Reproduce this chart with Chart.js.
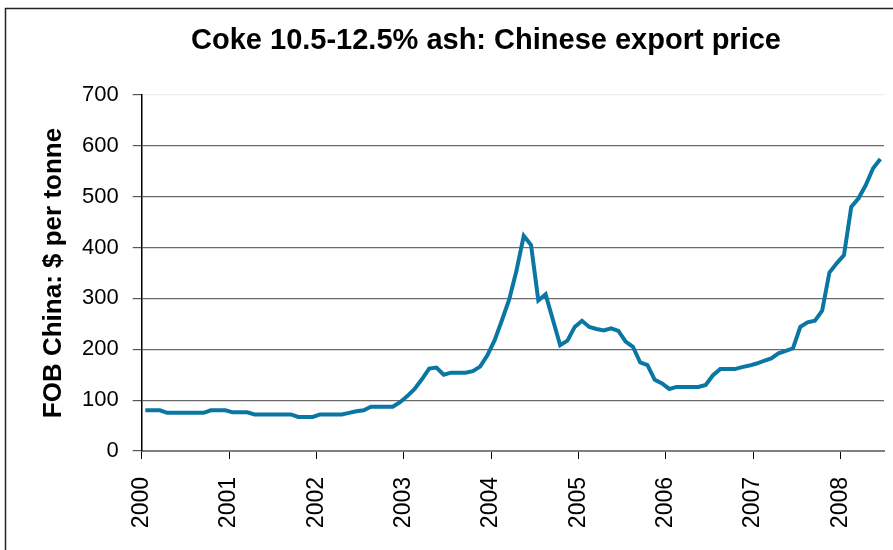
<!DOCTYPE html>
<html>
<head>
<meta charset="utf-8">
<title>Coke 10.5-12.5% ash: Chinese export price</title>
<script src="https://cdn.jsdelivr.net/npm/chart.js@4.4.1/dist/chart.umd.min.js"></script>
<style>
  html, body { margin: 0; padding: 0; background: #fff; }
  #wrap { width: 893px; height: 550px; }
</style>
</head>
<body>
<div id="wrap"><canvas id="chart" width="893" height="550"></canvas></div>
<script>
const TITLE = 'Coke 10.5-12.5% ash: Chinese export price';
const Y_TITLE = 'FOB China: $ per tonne';
const FONT = '"Liberation Sans", Arial, sans-serif';
const LINE_COLOR = '#0976a4';

// Year labels on the x axis; one tick every 12 months.
const YEARS = ['2000', '2001', '2002', '2003', '2004', '2005', '2006', '2007', '2008'];

// Monthly FOB price, $ per tonne, Jan..Dec.
const PRICE_2000 = [80, 80, 80, 75, 75, 75, 75, 75, 75, 80, 80, 80];
const PRICE_2001 = [76, 76, 76, 72, 72, 72, 72, 72, 72, 67, 67, 67];
const PRICE_2002 = [72, 72, 72, 72, 75, 78, 80, 87, 87, 87, 87, 96];
const PRICE_2003 = [108, 122, 141, 162, 164, 150, 154, 154, 154, 157, 166, 188];
const PRICE_2004 = [218, 257, 298, 355, 423, 405, 296, 308, 258, 208, 217, 244];
const PRICE_2005 = [256, 244, 240, 237, 241, 236, 215, 205, 174, 169, 140, 133];
const PRICE_2006 = [122, 126, 126, 126, 126, 130, 149, 161, 161, 161, 165, 168];
const PRICE_2007 = [172, 177, 182, 192, 197, 202, 244, 253, 256, 276, 351, 369];
const PRICE_2008 = [385, 480, 497, 523, 556, 574];   // Jan..Jun

const Y_MIN = 0;
const Y_MAX = 700;
const Y_STEP = 100;

const prices = [].concat(PRICE_2000, PRICE_2001, PRICE_2002, PRICE_2003,
    PRICE_2004, PRICE_2005, PRICE_2006, PRICE_2007, PRICE_2008);

// Each month sits in the middle of its own slot, like a category axis.
const points = prices.map((v, i) => ({ x: i + 0.5, y: v }));
const monthCount = prices.length;

// Outer frame of the chart object (left and top edges show in the picture).
const framePlugin = {
    id: 'frame',
    beforeDraw(chart) {
        const { ctx, width, height } = chart;
        ctx.save();
        ctx.strokeStyle = '#222';
        ctx.lineWidth = 1.5;
        ctx.beginPath();
        ctx.moveTo(5.5, height);
        ctx.lineTo(5.5, 8.5);
        ctx.lineTo(width, 8.5);
        ctx.stroke();
        ctx.restore();
    },
};

// Title is centred on the whole chart object, not on the plot area.
const titlePlugin = {
    id: 'fixedTitle',
    afterDraw(chart) {
        const { ctx } = chart;
        ctx.save();
        ctx.font = `bold 29px ${FONT}`;
        ctx.fillStyle = '#000';
        ctx.textAlign = 'center';
        ctx.textBaseline = 'middle';
        ctx.fillText(TITLE, 486, 41);
        ctx.restore();
    },
};

new Chart(document.getElementById('chart'), {
    type: 'line',
    data: {
        datasets: [{
            label: 'FOB China',
            data: points,
            borderColor: LINE_COLOR,
            backgroundColor: LINE_COLOR,
            borderWidth: 4,
            pointRadius: 0,
            tension: 0,
            fill: false,
        }],
    },
    options: {
        responsive: false,
        animation: false,
        devicePixelRatio: 1,
        layout: { padding: { top: 95, right: 9, bottom: 0, left: 0 } },
        plugins: {
            legend: { display: false },
            tooltip: { enabled: false },
            title: { display: false },
        },
        scales: {
            x: {
                type: 'linear',
                min: 0,
                max: monthCount,
                afterBuildTicks: (scale) => {
                    scale.ticks = YEARS.map((y, i) => ({ value: i * 12 }));
                },
                afterFit: (scale) => { scale.height = 99; },
                ticks: {
                    autoSkip: false,
                    minRotation: 90,
                    maxRotation: 90,
                    padding: 18,
                    color: '#000',
                    font: { family: FONT, size: 23 },
                    callback: (v) => YEARS[Math.round(v / 12)] || '',
                },
                grid: {
                    drawOnChartArea: false,
                    drawTicks: true,
                    tickLength: 8,
                    tickColor: '#000',
                    tickWidth: 1,
                },
                border: { color: '#808080', width: 2 },
            },
            y: {
                min: Y_MIN,
                max: Y_MAX,
                afterFit: (scale) => { scale.width = 141.7; },
                ticks: {
                    stepSize: Y_STEP,
                    padding: 14,
                    color: '#000',
                    font: { family: FONT, size: 22 },
                },
                grid: {
                    color: (c) => (c.tick && c.tick.value === Y_MAX ? '#ececec' : '#6a6a6a'),
                    lineWidth: 1.2,
                    tickLength: 9,
                    tickColor: '#555',
                },
                border: { color: '#000', width: 1.5 },
                title: {
                    display: true,
                    text: Y_TITLE,
                    color: '#000',
                    font: { family: FONT, size: 26, weight: 'bold' },
                    padding: { top: 38, bottom: 0 },
                },
            },
        },
    },
    plugins: [framePlugin, titlePlugin],
});
</script>
</body>
</html>
